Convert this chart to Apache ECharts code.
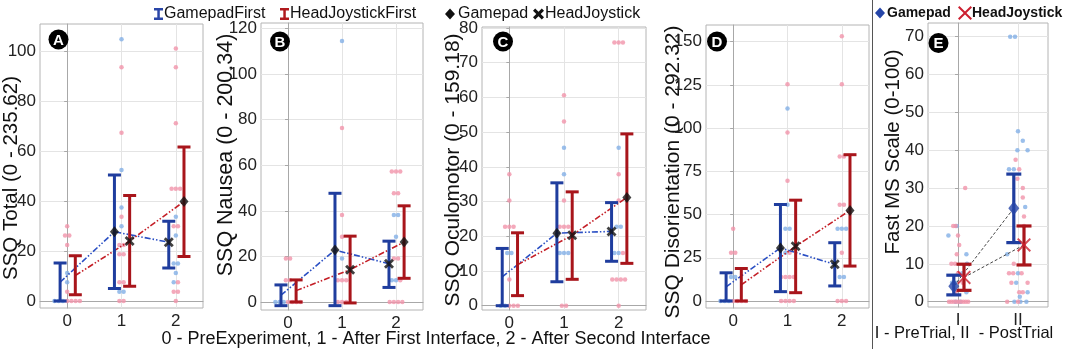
<!DOCTYPE html>
<html lang="en">
<head>
<meta charset="UTF-8">
<title>SSQ and Fast MS scores</title>
<script src="https://cdn.jsdelivr.net/npm/echarts@6/dist/echarts.min.js"></script>
<style>
html, body { margin: 0; padding: 0; background: #fff; }
#chart { width: 1065px; height: 349px; }
</style>
</head>
<body>
<div id="chart"></div>
<script>
// ---- data ----
const timeLabels = ['0', '1', '2'];
const trialLabels = ['I', 'II'];

// A - SSQ Total
const totalGpMean = [7.5, 27.7, 23.5];
const totalGpLow = [0, 5.0, 13.2];
const totalGpHigh = [15.2, 50.4, 31.9];
const totalHjMean = [10.2, 24.0, 39.8];
const totalHjLow = [2.5, 5.9, 17.8];
const totalHjHigh = [18.1, 42.2, 61.6];
const totalBlueDots = [[11.22, 7.48, 0, 0, 0], [104.72, 52.36, 37.4, 29.92, 3.74, 3.74], [33.66, 26.18, 14.96, 14.96, 11.22, 7.48]];
const totalPinkDots = [[29.92, 26.18, 26.18, 22.44, 3.74, 0, 0, 0, 0], [93.5, 67.32, 33.66, 22.44, 22.44, 18.7, 18.7, 7.48, 7.48, 0, 0], [100.98, 93.5, 71.06, 44.88, 44.88, 44.88, 29.92, 29.92, 7.48, 3.74, 3.74, 0]];

// B - SSQ Nausea
const nauseaGpMean = [3.0, 22.8, 16.8];
const nauseaGpLow = [-1.6, -1.6, 6.4];
const nauseaGpHigh = [7.5, 47.7, 26.7];
const nauseaHjMean = [5.0, 14.2, 26.3];
const nauseaHjLow = [0, -0.4, 10.4];
const nauseaHjHigh = [9.7, 28.9, 42.2];
const nauseaBlueDots = [[0, 0, 0], [114.48, 19.08], [38.16, 38.16, 28.62, 9.54, 9.54]];
const nauseaPinkDots = [[19.08, 19.08, 9.54, 9.54, 0, 0, 0, 0], [76.32, 38.16, 28.62, 9.54, 9.54, 9.54, 0, 0, 0], [57.24, 57.24, 57.24, 47.7, 47.7, 19.08, 19.08, 9.54, 0, 0, 0, 0]];

// C - SSQ Oculomotor
const oculoGpMean = [8.3, 20.9, 21.4];
const oculoGpLow = [0, 6.9, 12.8];
const oculoGpHigh = [16.5, 35.4, 29.7];
const oculoHjMean = [11.8, 20.3, 31.2];
const oculoHjLow = [2.9, 7.6, 12.2];
const oculoHjHigh = [21.0, 32.8, 49.5];
const oculoBlueDots = [[15.16, 15.16, 0, 0], [45.48, 37.9, 15.16, 15.16, 15.16], [45.48, 22.74, 22.74, 15.16, 15.16]];
const oculoPinkDots = [[37.9, 30.32, 22.74, 22.74, 22.74, 7.58, 0, 0, 0], [60.64, 53.06, 30.32, 22.74, 22.74, 22.74, 0, 0], [75.8, 75.8, 75.8, 37.9, 30.32, 15.16, 7.58, 7.58, 7.58, 7.58, 0]];

// D - SSQ Disorientation
const disorGpMean = [8.2, 30.7, 21.2];
const disorGpLow = [0, 5.4, 8.7];
const disorGpHigh = [16.3, 55.8, 33.7];
const disorHjMean = [9.4, 31.6, 52.4];
const disorHjLow = [0, 4.8, 20.2];
const disorHjHigh = [18.8, 58.3, 84.6];
const disorBlueDots = [[13.92, 13.92, 0, 0, 0], [111.36, 55.68, 41.76, 41.76, 27.84], [41.76, 41.76, 41.76, 13.92, 13.92]];
const disorPinkDots = [[41.76, 27.84, 27.84, 0, 0, 0, 0], [125.28, 97.44, 69.6, 27.84, 13.92, 13.92, 13.92, 13.92, 0, 0, 0, 0], [153.12, 125.28, 83.52, 83.52, 55.68, 55.68, 27.84, 0, 0, 0]];

// E - Fast MS Scale (Gamepad / HeadJoystick), dots are [jittered trial position, score]
const fmsGpMean = [4.1, 24.7];
const fmsGpLow = [1.8, 15.6];
const fmsGpHigh = [7.0, 33.7];
const fmsHjMean = [6.4, 15.0];
const fmsHjLow = [3.0, 9.7];
const fmsHjHigh = [9.9, 20.0];
const fmsBlueDots = [[-0.02, 20], [-0.16, 17.5], [0.14, 12.5], [0.15, 10], [0.07, 7.5], [-0.1, 5], [-0.04, 5], [0.14, 2.5], [-0.04, 0], [0.04, 0],
  [0.87, 70], [0.95, 70], [1.0, 45], [1.08, 42.5], [0.99, 40], [1.16, 40], [0.85, 35], [0.93, 35], [1.12, 25], [0.82, 12.5], [1.0, 7.5], [0.97, 5], [1.16, 2.5], [1.03, 1.3], [0.94, 0], [1.04, 0], [1.14, 0]];
const fmsPinkDots = [[0.12, 30], [-0.08, 20], [-0.04, 20], [0.0, 17.5], [0.02, 15], [-0.02, 12.5], [-0.11, 10], [-0.05, 10], [0.0, 7.5], [0.08, 5], [-0.04, 2.5],
  [-0.15, 0], [-0.11, 0], [-0.07, 0], [-0.03, 0], [0.01, 0], [0.05, 0], [0.09, 0], [0.13, 0], [0.17, 0],
  [0.96, 37.5], [1.02, 35], [0.99, 32.5], [1.08, 30], [1.08, 27.5], [1.1, 22.5], [1.1, 20], [0.93, 10], [0.85, 7.5], [0.92, 7.5], [1.06, 7.5], [0.89, 5], [1.16, 5], [1.02, 2.5], [1.08, 2.5], [0.82, 0], [1.0, 0]];

// ---- styling ----
const FONT = '"Liberation Sans", Arial, sans-serif';
const NARROW = '"Liberation Sans Narrow", "Liberation Sans", Arial, sans-serif';
const BAR_BLUE = '#1f3d9e', BAR_RED = '#a8151b';
const LINE_BLUE = '#2a4fc4', LINE_RED = '#c41f27';
const DOT_BLUE = '#82afe6', DOT_PINK = '#f193aa';
const DASHDOT = [6, 2, 1.5, 2, 1.5, 2];
const X_PATH = 'path://M0,2L2,0L5,3L8,0L10,2L7,5L10,8L8,10L5,7L2,10L0,8L3,5Z';
const X_THIN = 'path://M0,1L1,0L5,4L9,0L10,1L6,5L10,9L9,10L5,6L1,10L0,9L4,5Z';

const panels = [
  { box: [40, 24, 163, 284], y: [-2.8, 110.8], ticks: [0, 20, 40, 60, 80, 100], title: 'SSQ Total (0 - 235.62)', tpos: [11, 178], tsize: 20.5, letter: 'A', lpos: [58.5, 39.5],
    gp: [totalGpMean, totalGpLow, totalGpHigh], hj: [totalHjMean, totalHjLow, totalHjHigh], blue: totalBlueDots, pink: totalPinkDots },
  { box: [261, 23, 162, 287], y: [-3.5, 122.4], ticks: [0, 20, 40, 60, 80, 100, 120], title: 'SSQ Nausea (0 - 200.34)', tpos: [226, 155], tsize: 21.5, letter: 'B', lpos: [280, 41.5],
    gp: [nauseaGpMean, nauseaGpLow, nauseaGpHigh], hj: [nauseaHjMean, nauseaHjLow, nauseaHjHigh], blue: nauseaBlueDots, pink: nauseaPinkDots },
  { box: [482, 27, 164, 283], y: [-1.24, 80.3], ticks: [0, 10, 20, 30, 40, 50, 60, 70, 80], title: 'SSQ Oculomotor (0 - 159.18)', tpos: [453, 170], tsize: 21, letter: 'C', lpos: [503, 41.5],
    gp: [oculoGpMean, oculoGpLow, oculoGpHigh], hj: [oculoHjMean, oculoHjLow, oculoHjHigh], blue: oculoBlueDots, pink: oculoPinkDots },
  { box: [706, 25, 163, 283], y: [-4.05, 159.6], ticks: [0, 25, 50, 75, 100, 125, 150], title: 'SSQ Disorientation (0 - 292.32)', tpos: [673, 172], tsize: 21, letter: 'D', lpos: [717, 41.5],
    gp: [disorGpMean, disorGpLow, disorGpHigh], hj: [disorHjMean, disorHjLow, disorHjHigh], blue: disorBlueDots, pink: disorPinkDots }
];

// stack equal values side by side around the category position
function dotRows(blueCats, pinkCats, step) {
  const out = { blue: [], pink: [] };
  blueCats.forEach((blueVals, c) => {
    const rows = new Map();
    blueVals.forEach(v => { if (!rows.has(v)) rows.set(v, []); rows.get(v).push('blue'); });
    pinkCats[c].forEach(v => { if (!rows.has(v)) rows.set(v, []); rows.get(v).push('pink'); });
    rows.forEach((cols, v) => {
      cols.forEach((col, k) => out[col].push([c + (k - (cols.length - 1) / 2) * step, v]));
    });
  });
  return out;
}

function errorBar(capHalf, width) {
  return function (params, api) {
    const x = api.value(0);
    const top = api.coord([x, api.value(2)]);
    const bot = api.coord([x, api.value(1)]);
    const style = { stroke: api.visual('color'), lineWidth: width, fill: null };
    return {
      type: 'group',
      children: [
        { type: 'line', shape: { x1: top[0], y1: top[1], x2: bot[0], y2: bot[1] }, style: style },
        { type: 'line', shape: { x1: top[0] - capHalf, y1: top[1], x2: top[0] + capHalf, y2: top[1] }, style: style },
        { type: 'line', shape: { x1: bot[0] - capHalf, y1: bot[1], x2: bot[0] + capHalf, y2: bot[1] }, style: style }
      ]
    };
  };
}

const grids = [], xAxes = [], yAxes = [], series = [], graphics = [];

function addAxes(i, box, yr, ticks, xr, xticks, xlabels) {
  grids.push({ left: box[0], top: box[1], width: box[2], height: box[3], show: true, borderColor: '#b4b4b4', borderWidth: 1, containLabel: false, outerBoundsMode: 'none' });
  xAxes.push({
    gridIndex: i, type: 'value', min: xr[0], max: xr[1],
    axisLine: { show: true, lineStyle: { color: '#a8a8a8' } },
    axisTick: { show: false, customValues: xticks },
    axisLabel: { customValues: xticks, formatter: v => xlabels[Math.round(v)], fontFamily: NARROW, fontSize: 17, color: '#222', margin: 5 },
    splitLine: { show: true, lineStyle: { color: '#e4e4e4' } }
  });
  yAxes.push({
    gridIndex: i, type: 'value', min: yr[0], max: yr[1],
    axisLine: { show: true, lineStyle: { color: '#a8a8a8' } },
    axisTick: { show: true, length: 3, customValues: ticks, lineStyle: { color: '#a8a8a8' } },
    axisLabel: { customValues: ticks, fontFamily: NARROW, fontSize: 17, color: '#222', margin: 4 },
    splitLine: { show: true, lineStyle: { color: '#e4e4e4' } }
  });
}

function titleText(text, pos, size) {
  graphics.push({ type: 'text', x: pos[0], y: pos[1], rotation: Math.PI / 2,
    style: { text: text, fontFamily: FONT, fontSize: size, fill: '#111', align: 'center', verticalAlign: 'middle' } });
}

function badge(letter, pos) {
  graphics.push({ type: 'circle', shape: { cx: pos[0], cy: pos[1], r: 10 }, style: { fill: '#000' }, z: 20 });
  graphics.push({ type: 'text', x: pos[0], y: pos[1] + 1, z: 21,
    style: { text: letter, fontFamily: FONT, fontWeight: 'bold', fontSize: 15, fill: '#fff', align: 'center', verticalAlign: 'middle' } });
}

const GP_OFF = -0.13, HJ_OFF = 0.15;

panels.forEach((p, i) => {
  addAxes(i, p.box, p.y, p.ticks, [-0.5, 2.5], [0, 1, 2], timeLabels);
  titleText(p.title, p.tpos, p.tsize);
  badge(p.letter, p.lpos);
  const dots = dotRows(p.blue, p.pink, 0.078);
  const ax = { xAxisIndex: i, yAxisIndex: i, silent: true, animation: false };
  series.push(Object.assign({ type: 'scatter', data: dots.blue, symbolSize: 4.5, itemStyle: { color: DOT_BLUE }, z: 1 }, ax));
  series.push(Object.assign({ type: 'scatter', data: dots.pink, symbolSize: 4.5, itemStyle: { color: DOT_PINK }, z: 1 }, ax));
  const gpPts = p.gp[0].map((m, c) => [c + GP_OFF, m]);
  const hjPts = p.hj[0].map((m, c) => [c + HJ_OFF, m]);
  series.push(Object.assign({ type: 'line', data: gpPts, symbol: 'none', lineStyle: { color: LINE_BLUE, width: 1.6, type: DASHDOT }, z: 3 }, ax));
  series.push(Object.assign({ type: 'line', data: hjPts, symbol: 'none', lineStyle: { color: LINE_RED, width: 1.6, type: DASHDOT }, z: 3 }, ax));
  series.push(Object.assign({ type: 'custom', renderItem: errorBar(6.5, 3), itemStyle: { color: BAR_BLUE },
    data: p.gp[0].map((m, c) => [c + GP_OFF, p.gp[1][c], p.gp[2][c]]), z: 4 }, ax));
  series.push(Object.assign({ type: 'custom', renderItem: errorBar(6.5, 3), itemStyle: { color: BAR_RED },
    data: p.hj[0].map((m, c) => [c + HJ_OFF, p.hj[1][c], p.hj[2][c]]), z: 4 }, ax));
  // Gamepad trials: GamepadFirst at 1, HeadJoystickFirst at 2; HeadJoystick the other way round
  series.push(Object.assign({ type: 'scatter', data: [gpPts[1], hjPts[2]], symbol: 'diamond', symbolSize: [9, 11], itemStyle: { color: '#111' }, z: 5 }, ax));
  series.push(Object.assign({ type: 'scatter', data: [gpPts[2], hjPts[1]], symbol: X_PATH, symbolSize: 10, itemStyle: { color: '#111' }, z: 5 }, ax));
});

// panel E
const ei = panels.length;
addAxes(ei, [928, 23, 120, 284], [-1.4, 73.6], [0, 10, 20, 30, 40, 50, 60, 70], [-0.5, 1.5], [0, 1], trialLabels);
titleText('Fast MS Scale (0-100)', [893, 152], 20.5);
badge('E', [938.5, 43]);
(function () {
  const ax = { xAxisIndex: ei, yAxisIndex: ei, silent: true, animation: false };
  const gpPts = fmsGpMean.map((m, c) => [c - 0.07, m]);
  const hjPts = fmsHjMean.map((m, c) => [c + 0.1, m]);
  series.push(Object.assign({ type: 'scatter', data: fmsBlueDots, symbolSize: 4.5, itemStyle: { color: DOT_BLUE }, z: 1 }, ax));
  series.push(Object.assign({ type: 'scatter', data: fmsPinkDots, symbolSize: 4.5, itemStyle: { color: DOT_PINK }, z: 1 }, ax));
  series.push(Object.assign({ type: 'line', data: gpPts, symbol: 'none', lineStyle: { color: '#444', width: 1, type: [3, 2] }, z: 3 }, ax));
  series.push(Object.assign({ type: 'line', data: hjPts, symbol: 'none', lineStyle: { color: '#444', width: 1, type: [3, 2] }, z: 3 }, ax));
  series.push(Object.assign({ type: 'custom', renderItem: errorBar(7.5, 3.2), itemStyle: { color: BAR_BLUE },
    data: fmsGpMean.map((m, c) => [c - 0.07, fmsGpLow[c], fmsGpHigh[c]]), z: 4 }, ax));
  series.push(Object.assign({ type: 'custom', renderItem: errorBar(7.5, 3.2), itemStyle: { color: BAR_RED },
    data: fmsHjMean.map((m, c) => [c + 0.1, fmsHjLow[c], fmsHjHigh[c]]), z: 4 }, ax));
  series.push(Object.assign({ type: 'scatter', data: gpPts, symbol: 'diamond', symbolSize: [11, 14], itemStyle: { color: '#2545a8' }, z: 5 }, ax));
  series.push(Object.assign({ type: 'scatter', data: hjPts, symbol: X_THIN, symbolSize: 14, itemStyle: { color: '#cc2030' }, z: 5 }, ax));
})();

// legends, divider and axis captions
function iBeam(x, y, color) {
  graphics.push({ type: 'group', x: x, y: y, children: [
    { type: 'rect', shape: { x: 0, y: 0, width: 9, height: 2.5 }, style: { fill: color } },
    { type: 'rect', shape: { x: 3.3, y: 0, width: 2.5, height: 12 }, style: { fill: color } },
    { type: 'rect', shape: { x: 0, y: 9.5, width: 9, height: 2.5 }, style: { fill: color } }
  ] });
}
function legendText(text, x, y, size, weight) {
  graphics.push({ type: 'text', x: x, y: y,
    style: { text: text, fontFamily: FONT, fontSize: size, fontWeight: weight || 'normal', fill: '#111', align: 'left', verticalAlign: 'middle' } });
}
function xShape(cx, cy, s, thin, color) {
  const base = thin
    ? [[0, 1], [1, 0], [5, 4], [9, 0], [10, 1], [6, 5], [10, 9], [9, 10], [5, 6], [1, 10], [0, 9], [4, 5]]
    : [[0, 2], [2, 0], [5, 3], [8, 0], [10, 2], [7, 5], [10, 8], [8, 10], [5, 7], [2, 10], [0, 8], [3, 5]];
  graphics.push({ type: 'polygon', shape: { points: base.map(q => [cx - s / 2 + q[0] * s / 10, cy - s / 2 + q[1] * s / 10]) }, style: { fill: color } });
}
function diamond(cx, cy, w, h, color) {
  graphics.push({ type: 'polygon', shape: { points: [[cx, cy - h / 2], [cx + w / 2, cy], [cx, cy + h / 2], [cx - w / 2, cy]] }, style: { fill: color } });
}

iBeam(154, 8, '#2a46a8');
legendText('GamepadFirst', 164, 14, 16);
iBeam(280, 8, '#b01a1e');
legendText('HeadJoystickFirst', 290, 14, 16);
diamond(450, 14, 10, 11, '#111');
legendText('Gamepad', 458, 14, 16);
xShape(538.5, 14, 11, false, '#111');
legendText('HeadJoystick', 545, 14, 16);

diamond(880, 13, 10, 11, '#2545a8');
legendText('Gamepad', 887, 13, 14, 'bold');
xShape(965, 13, 14, true, '#cc2030');
legendText('HeadJoystick', 972, 13, 14, 'bold');

graphics.push({ type: 'line', shape: { x1: 872.5, y1: 0, x2: 872.5, y2: 349 }, style: { stroke: '#555', lineWidth: 1 } });
graphics.push({ type: 'text', x: 436, y: 339,
  style: { text: '0 - PreExperiment, 1 - After First Interface, 2 - After Second Interface', fontFamily: FONT, fontSize: 18, fill: '#111', align: 'center', verticalAlign: 'middle' } });
graphics.push({ type: 'text', x: 964, y: 333,
  style: { text: 'I - PreTrial, II  - PostTrial', fontFamily: FONT, fontSize: 16.5, fill: '#111', align: 'center', verticalAlign: 'middle' } });

const chart = echarts.init(document.getElementById('chart'), null, { renderer: 'canvas' });
chart.setOption({
  animation: false,
  backgroundColor: '#fff',
  grid: grids,
  xAxis: xAxes,
  yAxis: yAxes,
  series: series,
  graphic: graphics
});
</script>
</body>
</html>
